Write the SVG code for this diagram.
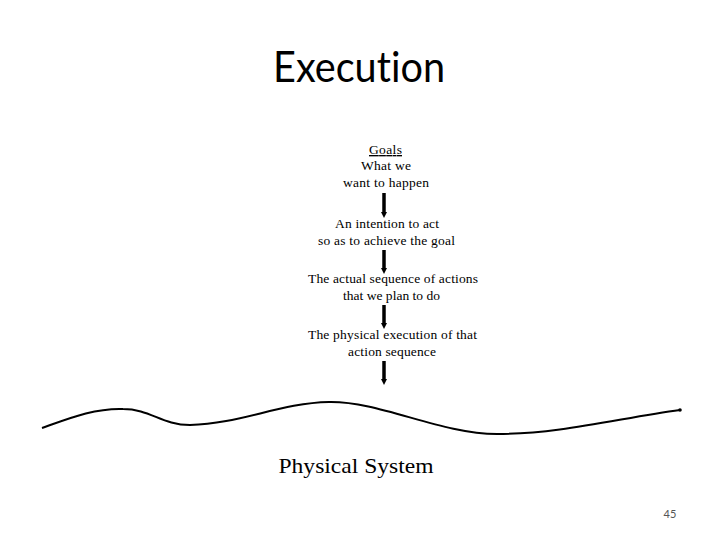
<svg xmlns="http://www.w3.org/2000/svg" width="720" height="540" viewBox="0 0 720 540">
<defs>
<marker id="ah" markerWidth="6" markerHeight="6" refX="0" refY="3" orient="auto" markerUnits="userSpaceOnUse" viewBox="0 0 6 6">
<path d="M0,0 L6,3 L0,6 z" fill="#000"/>
</marker>
</defs>
<rect width="720" height="540" fill="#fff"/>
<text x="359" y="82" font-family="Lato,'Open Sans',sans-serif" font-size="42" text-anchor="middle" textLength="172" lengthAdjust="spacingAndGlyphs" style="font-variant-ligatures:none">Execution</text>
<g font-family="'Liberation Serif','Times New Roman',serif" font-size="13.5" fill="#000" text-anchor="middle" lengthAdjust="spacingAndGlyphs">
<g id="goals">
<text x="385.5" y="154" text-decoration="underline" textLength="33">Goals</text>
<text x="386" y="170" textLength="50">What we</text>
<text x="386" y="187" textLength="86">want to happen</text>
</g>
<g id="intention">
<text x="387" y="228" textLength="104">An intention to act</text>
<text x="386.5" y="245" textLength="137">so as to achieve the goal</text>
</g>
<g id="sequence">
<text x="393" y="283" textLength="170">The actual sequence of actions</text>
<text x="391.5" y="300" textLength="97">that we plan to do</text>
</g>
<g id="execution">
<text x="392.5" y="339" textLength="169">The physical execution of that</text>
<text x="392" y="356" textLength="88">action sequence</text>
</g>
</g>
<g id="connectors" stroke="#000" stroke-width="3.5" fill="none">
<line x1="384" y1="193" x2="384" y2="212" marker-end="url(#ah)"/>
<line x1="384" y1="250" x2="384" y2="268" marker-end="url(#ah)"/>
<line x1="384" y1="305" x2="384" y2="323" marker-end="url(#ah)"/>
<line x1="384" y1="361" x2="384" y2="379" marker-end="url(#ah)"/>
</g>
<g id="physical-system">
<path d="M42,428 C70,418 95,408 123,409 C150,409 162,425 190,425 C240,424 280,403 329,402 C380,401 440,434 497,434 C560,434 620,418 680,410" fill="none" stroke="#000" stroke-width="2"/>
<circle cx="680" cy="410" r="1.8" fill="#000"/>
<text x="356" y="473" font-family="'Liberation Serif','Times New Roman',serif" font-size="22" text-anchor="middle" textLength="155" lengthAdjust="spacingAndGlyphs">Physical System</text>
</g>
<text x="670" y="518" font-family="Lato,'Open Sans',sans-serif" font-size="11" fill="#555" text-anchor="middle">45</text>
</svg>
